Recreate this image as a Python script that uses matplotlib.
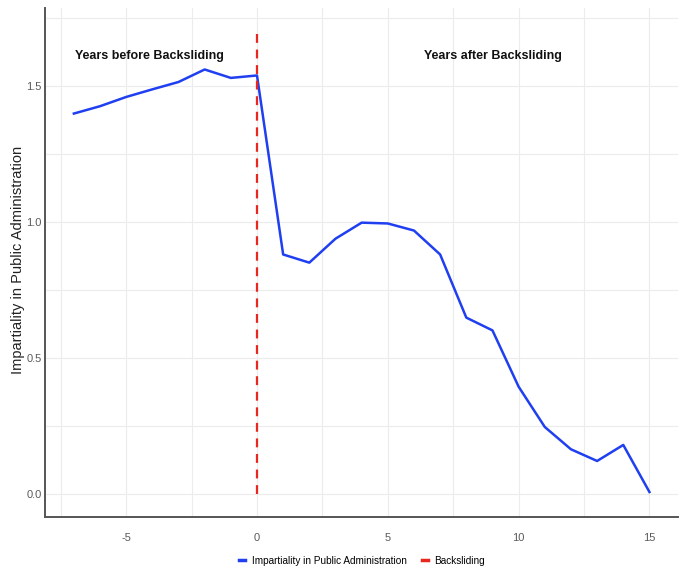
import matplotlib.pyplot as plt
from matplotlib.lines import Line2D
from matplotlib.ticker import MultipleLocator

plt.rcParams['axes.unicode_minus'] = False

years = [-7, -6, -5, -4, -3, -2, -1, 0, 1, 2, 3, 4, 5, 6, 7, 8, 9, 10, 11, 12, 13, 14, 15]
impartiality = [1.397, 1.424, 1.458, 1.486, 1.513, 1.559, 1.528, 1.537,
                0.879, 0.849, 0.937, 0.996, 0.993, 0.967, 0.879, 0.647, 0.600,
                0.393, 0.245, 0.163, 0.120, 0.179, 0.006]
break_year = 0
break_top = 1.70

font = ['Liberation Sans', 'DejaVu Sans']

fig = plt.figure(figsize=(6.83, 5.71), dpi=100)
ax = fig.add_axes([0.066, 0.095, 0.927, 0.891])

ax.plot(years, impartiality, color='#1f3ff0', lw=1.8)
ax.plot([break_year, break_year], [0, break_top], color='#e8281e', lw=1.6, ls=(0, (4, 3)))

ax.set_xlim(-8.1, 16.1)
ax.set_ylim(-0.085, 1.785)
ax.xaxis.set_major_locator(MultipleLocator(5))
ax.xaxis.set_minor_locator(MultipleLocator(2.5))
ax.yaxis.set_major_locator(MultipleLocator(0.5))
ax.yaxis.set_minor_locator(MultipleLocator(0.25))
ax.yaxis.set_major_formatter(lambda v, p: f'{v:.1f}')
ax.grid(True, which='both', color='#ececec', lw=0.8)
ax.set_axisbelow(True)
ax.tick_params(which='both', length=0, colors='#5a5a5a', labelsize=8)
ax.tick_params(axis='x', pad=12)
ax.tick_params(axis='y', pad=2.5)

for s in ['top', 'right']:
    ax.spines[s].set_visible(False)
for s in ['left', 'bottom']:
    ax.spines[s].set_color('#555555')
    ax.spines[s].set_linewidth(1.4)

for lbl in ax.get_xticklabels() + ax.get_yticklabels():
    lbl.set_family(font)

fig.text(0.027, 0.545, 'Impartiality in Public Administration', rotation=90,
         ha='center', va='center', fontsize=10.5, color='#222222', family=font)

ax.text(-4.1, 1.61, 'Years before Backsliding', ha='center', va='center',
        fontsize=9, fontweight='bold', family=font, color='#111111')
ax.text(9.0, 1.61, 'Years after Backsliding', ha='center', va='center',
        fontsize=9, fontweight='bold', family=font, color='#111111')

handles = [Line2D([], [], color='#1f3ff0', lw=2.5),
           Line2D([], [], color='#e8281e', lw=2.5)]
fig.legend(handles, ['Impartiality in Public Administration', 'Backsliding'],
           loc='center', bbox_to_anchor=(0.53, 0.018), ncol=2, frameon=False,
           handlelength=0.6, columnspacing=1.5, handletextpad=0.7,
           prop={'family': font, 'size': 7.2})

fig.savefig('out.png', dpi=100)
